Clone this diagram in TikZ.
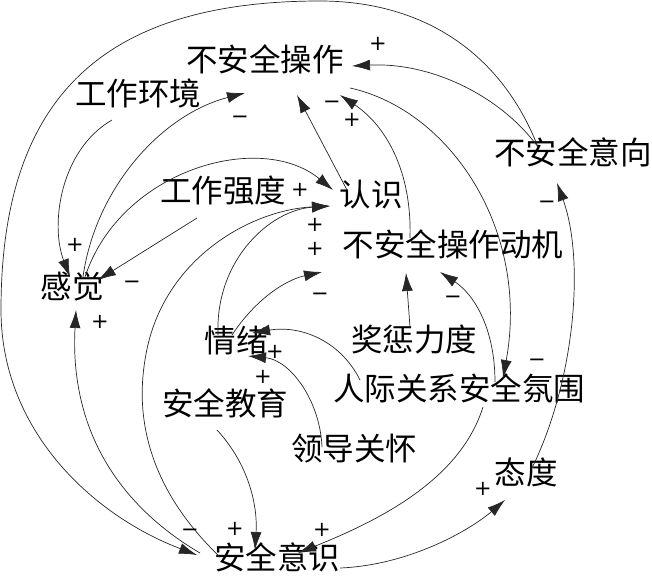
\documentclass[tikz,border=0pt]{standalone}
\usepackage{fontspec}
\newfontfamily\cjk{Noto Sans CJK SC}
\newfontfamily\signfont{DejaVu Sans}
\usetikzlibrary{arrows.meta,calc}
\begin{document}
\begin{tikzpicture}[x=1pt,y=-1pt,
  lbl/.style={font=\cjk\fontsize{31.5}{31.5}\selectfont, inner sep=0pt, text height=0.83em, text depth=0.07em},
  sgn/.style={font=\signfont\fontsize{21}{21}\selectfont, inner sep=0pt, text height=0.64em, text depth=0pt},
  conn/.style={draw=black!85, line width=0.7pt, -{Latex[length=18pt,width=11pt]}},
]
\useasboundingbox (0,0) rectangle (652,582);
% variables
\node[lbl] (A) at (265,68) {不安全操作};
\node[lbl] (B) at (138,102) {工作环境};
\node[lbl] (C) at (573,161) {不安全意向};
\node[lbl] (D) at (223,199) {工作强度};
\node[lbl] (E) at (371,203) {认识};
\node[lbl] (F) at (453,253) {不安全操作动机};
\node[lbl] (G) at (72,295) {感觉};
\node[lbl] (H) at (236,349) {情绪};
\node[lbl] (I) at (414,348) {奖惩力度};
\node[lbl] (J) at (459,397) {人际关系安全氛围};
\node[lbl] (K) at (225,412) {安全教育};
\node[lbl] (L) at (354,457) {领导关怀};
\node[lbl] (M) at (526,481) {态度};
\node[lbl] (N) at (277,566) {安全意识};
% connectors
\draw[conn] ($(C)+(-35,-14)$) .. controls (500,50) and (420,1) .. (320,1)
   .. controls (100,1) and (1,100) .. (1,310)
   .. controls (1,430) and (92,515) .. ($(N)+(-80,-11)$);
\draw[conn] ($(C)+(-35,-14)$) .. controls (500,95) and (430,62) .. ($(A)+(87,-2)$);
\draw[conn] ($(B)+(-26,18)$) .. controls (60,150) and (50,225) .. ($(G)+(-2,-18)$);
\draw[conn] ($(G)+(11,-18)$) .. controls (95,190) and (160,115) .. ($(A)+(-20,25)$);
\draw[conn] ($(G)+(13,-18)$) .. controls (120,170) and (260,130) .. ($(E)+(-38,-13)$);
\draw[conn] ($(D)+(-26,19)$) -- ($(G)+(26,-15)$);
\draw[conn] ($(E)+(-24,-13)$) -- ($(A)+(32,27)$);
\draw[conn] ($(F)+(-43,-15)$) .. controls (412,170) and (385,125) .. ($(A)+(75,27)$);
\draw[conn] ($(A)+(85,20)$) .. controls (450,110) and (530,230) .. ($(J)+(44,-19)$);
\draw[conn] ($(N)+(-77,-13)$) .. controls (110,500) and (70,420) .. ($(G)+(4,15)$);
\draw[conn] ($(N)+(-57,-9)$) .. controls (150,490) and (135,420) .. (145,360)
   .. controls (160,260) and (250,210) .. ($(E)+(-41,3)$);
\draw[conn] ($(H)+(-18,-14)$) .. controls (215,260) and (270,210) .. ($(E)+(-41,3)$);
\draw[conn] ($(H)+(-4,-14)$) .. controls (255,300) and (285,280) .. ($(F)+(-131,19)$);
\draw[conn] ($(J)+(-99,-17)$) .. controls (340,340) and (300,325) .. ($(H)+(16,-16)$);
\draw[conn] ($(L)+(-32,-10)$) .. controls (320,400) and (290,360) .. ($(H)+(12,7)$);
\draw[conn] ($(I)+(-4,-21)$) -- ($(F)+(-47,20)$);
\draw[conn] ($(J)+(36,-15)$) .. controls (495,330) and (475,295) .. ($(F)+(-13,19)$);
\draw[conn] ($(M)+(6,-13)$) .. controls (575,380) and (585,260) .. ($(C)+(-16,22)$);
\draw[conn] ($(K)+(-8,18)$) .. controls (245,460) and (258,500) .. ($(N)+(-22,-16)$);
\draw[conn] ($(J)+(24,10)$) .. controls (460,480) and (380,520) .. ($(N)+(21,-13)$);
\draw[conn] ($(N)+(63,2)$) .. controls (410,565) and (470,530) .. ($(M)+(-21,19)$);
% polarity signs
\node[sgn] (s1) at (378,47) {+};
\node[sgn] (s2) at (240,120) {−};
\node[sgn] (s3) at (332,105) {−};
\node[sgn] (s4) at (352,123) {+};
\node[sgn] (s5) at (300,193) {+};
\node[sgn] (s6) at (315,228) {+};
\node[sgn] (s7) at (315,252) {+};
\node[sgn] (s8) at (320,297) {−};
\node[sgn] (s9) at (75,248) {+};
\node[sgn] (s10) at (132,285) {−};
\node[sgn] (s11) at (100,325) {+};
\node[sgn] (s12) at (547,205) {−};
\node[sgn] (s13) at (453,300) {−};
\node[sgn] (s14) at (537,363) {−};
\node[sgn] (s15) at (275,355) {+};
\node[sgn] (s16) at (263,380) {+};
\node[sgn] (s17) at (190,533) {−};
\node[sgn] (s18) at (235,532) {+};
\node[sgn] (s19) at (322,533) {+};
\node[sgn] (s20) at (483,492) {+};
\end{tikzpicture}
\end{document}
